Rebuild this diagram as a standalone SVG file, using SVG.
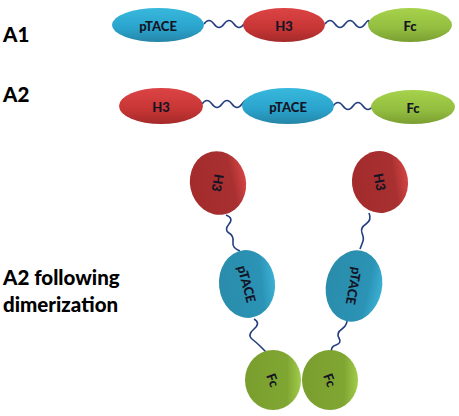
<svg xmlns="http://www.w3.org/2000/svg" width="459" height="416" viewBox="0 0 459 416">
<defs>
<linearGradient id="gBlue" x1="0" y1="0" x2="0" y2="1"><stop offset="0" stop-color="#38b8dc"/><stop offset="0.6" stop-color="#2aa3cc"/><stop offset="1" stop-color="#2585a8"/></linearGradient>
<linearGradient id="gRed" x1="0" y1="0" x2="0" y2="1"><stop offset="0" stop-color="#dc4444"/><stop offset="0.6" stop-color="#c73535"/><stop offset="1" stop-color="#a52a2a"/></linearGradient>
<linearGradient id="gGreen" x1="0" y1="0" x2="0" y2="1"><stop offset="0" stop-color="#a6d24c"/><stop offset="0.6" stop-color="#92bd3f"/><stop offset="1" stop-color="#7a9e32"/></linearGradient>
<linearGradient id="dBlue" x1="0" y1="0" x2="1" y2="0"><stop offset="0" stop-color="#2a8cab"/><stop offset="0.75" stop-color="#2b93b5"/><stop offset="1" stop-color="#3bb0d4"/></linearGradient>
<linearGradient id="dRed" x1="0" y1="0" x2="1" y2="0"><stop offset="0" stop-color="#a32b2b"/><stop offset="0.75" stop-color="#a83030"/><stop offset="1" stop-color="#d44444"/></linearGradient>
<linearGradient id="dGreen" x1="0" y1="0" x2="1" y2="0"><stop offset="0" stop-color="#7a9e2e"/><stop offset="0.75" stop-color="#80a632"/><stop offset="1" stop-color="#a0cc4a"/></linearGradient>
</defs>
<style>
.lbl{font-family:Lato,"Open Sans",sans-serif;font-weight:900;font-size:20.5px;fill:#000}
.t{font-family:Lato,"Open Sans",sans-serif;font-weight:900;font-size:13px;fill:#141424;text-anchor:middle;dominant-baseline:central}
.lk{fill:none;stroke:#243f80;stroke-width:1.6}
</style>
<text class="lbl" x="3" y="42">A1</text>
<text class="lbl" x="3" y="102">A2</text>
<text class="lbl" x="3" y="285">A2 following</text>
<text class="lbl" x="3" y="312">dimerization</text>
<g id="connectors">
<path class="lk" d="M204,24 q5,-7 10,0 t10,0 t10,0 t10,0"/>
<path class="lk" d="M325,24 q5,-7 10,0 t10,0 t10,0 t10,0 t4,0"/>
<path class="lk" d="M202,104 q5,-7 10,0 t10,0 t10,0 t10,0 t2,0"/>
<path class="lk" d="M333,106 q5,-7 10,0 t10,0 t10,0 t10,0"/>
<path class="lk" d="M226,215 q8,3 3,9 t0,9 t4,9 t7,9"/>
<path class="lk" d="M369,213 q3,7 -3,11 t-4,9 t1,8 t-3,8"/>
<path class="lk" d="M254,319 q7,4 0,10 t-2,10 t8,7 t7,7"/>
<path class="lk" d="M347,317 q1,8 -5,12 t-3,9 t-3,7 t-4,7"/>
</g>
<g id="a1-ptace"><ellipse cx="158" cy="25" rx="46" ry="17" fill="url(#gBlue)"/><text class="t" x="158" y="26">pTACE</text></g>
<g id="a1-h3"><ellipse cx="284" cy="25" rx="41" ry="17" fill="url(#gRed)"/><text class="t" x="284" y="26">H3</text></g>
<g id="a1-fc"><ellipse cx="410" cy="25" rx="42" ry="17" fill="url(#gGreen)"/><text class="t" x="410" y="26">Fc</text></g>
<g id="a2-h3"><ellipse cx="161" cy="106" rx="42" ry="18" fill="url(#gRed)"/><text class="t" x="161" y="107">H3</text></g>
<g id="a2-ptace"><ellipse cx="288" cy="106" rx="46" ry="18" fill="url(#gBlue)"/><text class="t" x="288" y="107">pTACE</text></g>
<g id="a2-fc"><ellipse cx="413" cy="107" rx="42" ry="17" fill="url(#gGreen)"/><text class="t" x="413" y="108">Fc</text></g>
<g id="d-h3-left"><ellipse cx="218" cy="183" rx="28" ry="32" transform="rotate(-12 218 183)" fill="url(#dRed)"/><text class="t" x="218" y="183" transform="rotate(100 218 183)">H3</text></g>
<g id="d-h3-right"><ellipse cx="380" cy="182" rx="28" ry="31" transform="rotate(-8 380 182)" fill="url(#dRed)"/><text class="t" x="380" y="182" transform="rotate(80 380 182)">H3</text></g>
<g id="d-ptace-left"><ellipse cx="247" cy="284" rx="28" ry="34" transform="rotate(-6 247 284)" fill="url(#dBlue)"/><text class="t" x="247" y="284" transform="rotate(75 247 284)">pTACE</text></g>
<g id="d-ptace-right"><ellipse cx="354" cy="286" rx="28" ry="36" transform="rotate(12 354 286)" fill="url(#dBlue)"/><text class="t" x="354" y="286" transform="rotate(100 354 286)">pTACE</text></g>
<g id="d-fc-left"><ellipse cx="273" cy="380" rx="28" ry="30" fill="url(#dGreen)"/><text class="t" x="273" y="380" transform="rotate(70 273 380)">Fc</text></g>
<g id="d-fc-right"><ellipse cx="330" cy="380" rx="28" ry="30" fill="url(#dGreen)"/><text class="t" x="330" y="380" transform="rotate(70 330 380)">Fc</text></g>
</svg>
